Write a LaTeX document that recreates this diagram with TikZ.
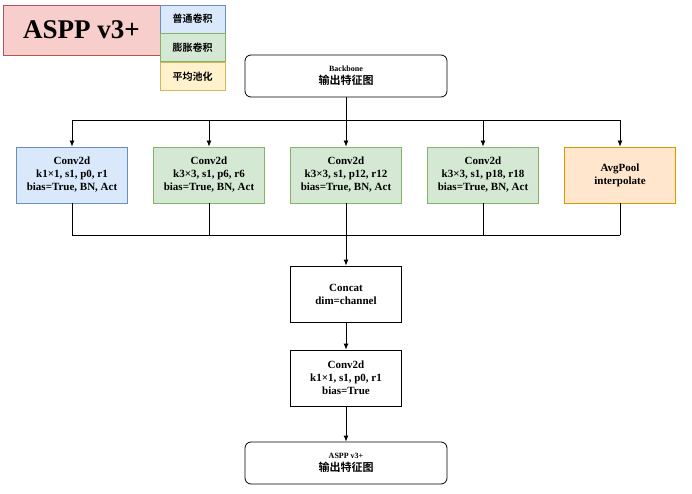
\documentclass[tikz,border=0pt]{standalone}
\usepackage{fontspec}
\setmainfont{Liberation Serif}
\newfontfamily\cjk{Noto Sans CJK SC}[BoldFont={* Bold}]
\usetikzlibrary{arrows.meta,positioning}
\definecolor{cb}{HTML}{DAE8FC}\definecolor{cbd}{HTML}{6C8EBF}
\definecolor{cg}{HTML}{D5E8D4}\definecolor{cgd}{HTML}{82B366}
\definecolor{co}{HTML}{FFE6CC}\definecolor{cod}{HTML}{D79B00}
\definecolor{cy}{HTML}{FFF2CC}\definecolor{cyd}{HTML}{D6B656}
\definecolor{cp}{HTML}{F8CECC}\definecolor{cpd}{HTML}{B85450}

\begin{document}
\begin{tikzpicture}
[x=1pt,y=-1pt,
arr/.style={-{Latex[length=6pt,width=5pt]},thick},
lin/.style={thick},
blk/.style={draw,thick,minimum width=111pt,minimum height=56pt,align=center,inner sep=1pt,
  font=\bfseries\fontsize{11}{13}\selectfont},
io/.style={draw,thick,rounded corners=6pt,minimum width=202pt,minimum height=42pt,align=center},
leg/.style={draw,thick,minimum width=65pt,minimum height=28pt,font=\cjk\bfseries\fontsize{10}{12}\selectfont}]
\useasboundingbox (0,0) rectangle (692,494);
%% legend
\node[draw=cpd,fill=cp,thick,minimum width=157pt,minimum height=50pt,
  font=\bfseries\fontsize{27}{30}\selectfont] (title) at (81.5,30) {ASPP v3+};
\node[leg,draw=cbd,fill=cb] (lconv) at (192.5,19) {普通卷积};
\node[leg,draw=cgd,fill=cg,below=0pt of lconv] (latr) {膨胀卷积};
\node[leg,draw=cyd,fill=cy,below=0pt of latr] (lpool) {平均池化};
%% input
\node[io] (bb) at (346,76) {\bfseries\fontsize{8}{9}\selectfont Backbone\\[1pt]\cjk\bfseries\fontsize{11}{13}\selectfont 输出特征图};
%% branches
\node[blk,draw=cbd,fill=cb] (b1) at (72,175) {Conv2d\\k1×1, s1, p0, r1\\bias=True, BN, Act};
\node[blk,draw=cgd,fill=cg] (b2) at (209,175) {Conv2d\\k3×3, s1, p6, r6\\bias=True, BN, Act};
\node[blk,draw=cgd,fill=cg] (b3) at (346,175) {Conv2d\\k3×3, s1, p12, r12\\bias=True, BN, Act};
\node[blk,draw=cgd,fill=cg] (b4) at (483,175) {Conv2d\\k3×3, s1, p18, r18\\bias=True, BN, Act};
\node[blk,draw=cod,fill=co] (b5) at (620,175) {AvgPool\\interpolate};
%% fuse
\node[blk] (cat) at (346,294) {Concat\\dim=channel};
\node[blk] (proj) at (346,378) {Conv2d\\k1×1, s1, p0, r1\\bias=True};
\node[io] (out) at (346,463) {\bfseries\fontsize{8}{9}\selectfont ASPP v3+\\[1pt]\cjk\bfseries\fontsize{11}{13}\selectfont 输出特征图};
%% connectors
\coordinate (top) at (346,120);
\coordinate (bot) at (346,235);
\draw[lin] (bb.south) -- (top);
\draw[lin] (b1.north|-top) -- (b5.north|-top);
\draw[lin] (b1.south|-bot) -- (b5.south|-bot);
\foreach \b in {b1,b2,b3,b4,b5}{
  \draw[arr] (\b.north|-top) -- (\b.north);
  \draw[lin] (\b.south) -- (\b.south|-bot);
}
\draw[arr] (bot) -- (cat.north);
\draw[arr] (cat) -- (proj);
\draw[arr] (proj) -- (out);
\end{tikzpicture}
\end{document}
